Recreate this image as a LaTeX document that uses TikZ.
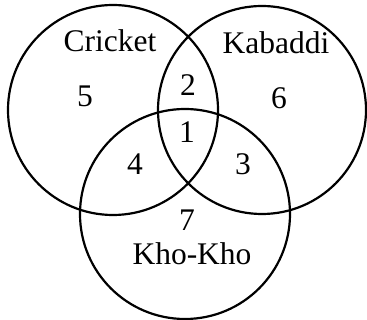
\documentclass[tikz,border=0pt]{standalone}
\usepackage{fontspec}
\setmainfont{Liberation Serif}
\begin{document}
\begin{tikzpicture}[x=1pt,y=-1pt,
  ring/.style={draw=black,line width=2.2pt},
  lbl/.style={font=\fontsize{31.5}{36}\selectfont,inner sep=0pt,anchor=center}]
\useasboundingbox (0,0) rectangle (367,320);
\fill[white] (0,0) rectangle (367,320);
\draw[ring] (113,110) circle[radius=105];
\draw[ring] (262,110) circle[radius=104];
\draw[ring] (185,214) circle[radius=105];
\node[lbl] (cricket) at (110,41) {Cricket};
\node[lbl] (kabaddi) at (276,43) {Kabaddi};
\node[lbl] (khokho) at (192,254) {Kho-Kho};
\node[lbl] (n5) at (85,96) {5};
\node[lbl] (n2) at (188,85) {2};
\node[lbl] (n6) at (279,98) {6};
\node[lbl] (n1) at (187,132) {1};
\node[lbl] (n4) at (135,164) {4};
\node[lbl] (n3) at (243,164) {3};
\node[lbl] (n7) at (187,220) {7};
\end{tikzpicture}
\end{document}
